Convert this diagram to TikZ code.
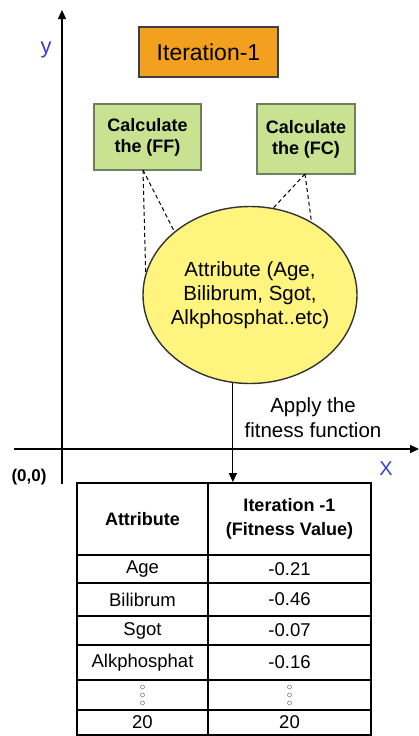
\documentclass[tikz,border=0pt]{standalone}
\usepackage{fontspec}
\setmainfont{Liberation Sans}
\usetikzlibrary{shapes.geometric,arrows.meta}
\definecolor{orangebox}{HTML}{F2A01E}
\definecolor{greenbox}{HTML}{C8E291}
\definecolor{greenline}{HTML}{6E8060}
\definecolor{yellowell}{HTML}{FFF47E}
\definecolor{axislabel}{HTML}{3C3CD8}
\tikzset{
  axis/.style={line width=1.4pt,-{Triangle[length=9pt,width=8pt]}},
  calcbox/.style={draw=greenline,fill=greenbox,line width=1.2pt,minimum width=107pt,minimum height=66pt,inner sep=0pt,align=center,font=\fontsize{18}{21}\selectfont\bfseries},
  dashline/.style={dashed,line width=1pt,dash pattern=on 4pt off 3pt},
  cell/.style={draw,line width=1.8pt,inner sep=0pt,align=center,font=\fontsize{18.5}{20}\selectfont},
  headcell/.style={cell,font=\fontsize{18}{24}\selectfont\bfseries},
}
\begin{document}
\begin{tikzpicture}[x=1pt,y=-1pt]
\useasboundingbox (0,0) rectangle (419,736);
% axes
\coordinate (yb) at (62,484);
\coordinate (yt) at (62,10);
\coordinate (xl) at (14,449);
\coordinate (xr) at (419,449);
\draw[axis] (yb) -- (yt);
\draw[axis] (xl) -- (xr);
\node[text=axislabel,font=\fontsize{22}{22}\selectfont] (ylab) at (46,50) {y};
\node[text=axislabel,font=\fontsize{20}{20}\selectfont] (xlab) at (386,469) {X};
\node[font=\fontsize{17}{17}\selectfont\bfseries] (orig) at (29,477) {(0,0)};
% iteration box
\node[draw=black!75,fill=orangebox,line width=1.2pt,minimum width=139pt,minimum height=50pt,inner sep=0pt,font=\fontsize{23}{23}\selectfont] (iter) at (208.5,52) {Iteration-1};
% calc boxes
\node[calcbox] (ff) at (147.5,137) {Calculate\\the (FF)};
\node[calcbox,minimum width=98pt,minimum height=70pt] (fc) at (306,139) {Calculate\\the (FC)};
% ellipse
\node[ellipse,draw=black!80,fill=yellowell,line width=1.4pt,minimum width=214pt,minimum height=177pt,inner xsep=-12pt,inner ysep=0pt,align=center,font=\fontsize{20.5}{24}\selectfont] (e) at (250,295) {Attribute (Age,\\Bilibrum, Sgot,\\Alkphosphat..etc)};
% dashed connectors
\coordinate (ffb) at (143,170);
\coordinate (fcb) at (305,174);
\draw[dashline] (ffb) -- (e.168);
\draw[dashline] (ffb) -- (e.140);
\draw[dashline] (fcb) -- (e.75);
\draw[dashline] (fcb) -- (e.50);
% apply text
\node[align=center,font=\fontsize{20.5}{25}\selectfont] (apply) at (313,418) {Apply the\\fitness function};
% table
\node[headcell,minimum width=131pt,minimum height=72pt] (h1) at (142.5,519) {Attribute};
\node[headcell,minimum width=163pt,minimum height=72pt] (h2) at (289.5,519) {Iteration -1\\(Fitness Value)};
\node[cell,minimum width=131pt,minimum height=28pt] (a1) at (142.5,569) {Age};
\node[cell,minimum width=163pt,minimum height=28pt] (b1) at (289.5,569) {-0.21};
\node[cell,minimum width=131pt,minimum height=33pt] (a2) at (142.5,599.5) {Bilibrum};
\node[cell,minimum width=163pt,minimum height=33pt] (b2) at (289.5,599.5) {-0.46};
\node[cell,minimum width=131pt,minimum height=29pt] (a3) at (142.5,630.5) {Sgot};
\node[cell,minimum width=163pt,minimum height=29pt] (b3) at (289.5,630.5) {-0.07};
\node[cell,minimum width=131pt,minimum height=35pt] (a4) at (142.5,662.5) {Alkphosphat};
\node[cell,minimum width=163pt,minimum height=35pt] (b4) at (289.5,662.5) {-0.16};
\node[cell,minimum width=131pt,minimum height=30pt] (a5) at (142.5,695) {};
\node[cell,minimum width=163pt,minimum height=30pt] (b5) at (289.5,695) {};
\node[cell,minimum width=131pt,minimum height=25pt] (a6) at (142.5,722.5) {20};
\node[cell,minimum width=163pt,minimum height=25pt] (b6) at (289.5,722.5) {20};
% vertical dots
\foreach \yy in {-8,0,8} {
  \draw[line width=0.6pt,gray] ([yshift=\yy*1pt]a5.center) circle (2pt);
  \draw[line width=0.6pt,gray] ([yshift=\yy*1pt]b5.center) circle (2pt);
}
% arrow
\draw[line width=1.2pt,-{Triangle[length=9pt,width=8pt]}] (e.259) -- (e.259 |- h2.north);
\end{tikzpicture}
\end{document}
